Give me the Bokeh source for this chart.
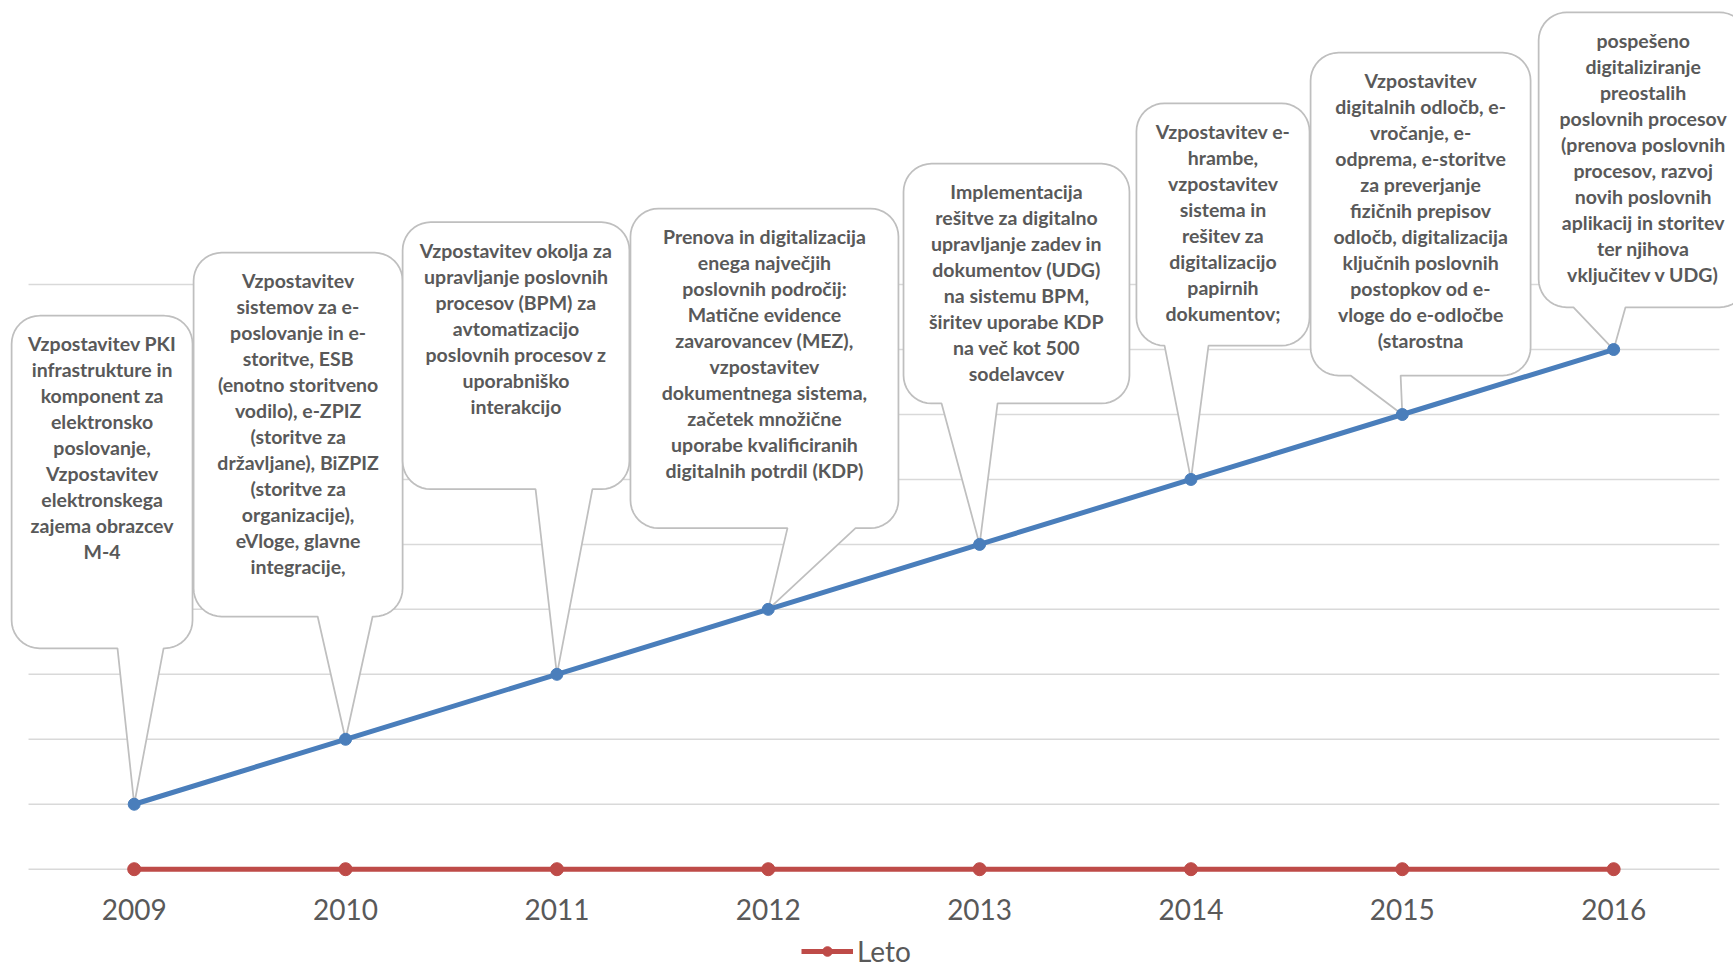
import math
from bokeh.plotting import figure
from bokeh.models import Range1d, FixedTicker, Legend, LegendItem
from bokeh.embed import file_html
from bokeh.resources import INLINE
from bokeh.core.properties import value

# ---------------- data ----------------
years = ["2009", "2010", "2011", "2012", "2013", "2014", "2015", "2016"]
napredek = [1, 2, 3, 4, 5, 6, 7, 8]          # blue milestone line
leto = [0, 0, 0, 0, 0, 0, 0, 0]              # red "Leto" series
grid_levels = [0, 1, 2, 3, 4, 5, 6, 7, 8, 9]

labels = [
    ["Vzpostavitev PKI", "infrastrukture in", "komponent za", "elektronsko",
     "poslovanje,", "Vzpostavitev", "elektronskega", "zajema obrazcev", "M-4"],
    ["Vzpostavitev", "sistemov za e-", "poslovanje in e-", "storitve, ESB",
     "(enotno storitveno", "vodilo), e-ZPIZ", "(storitve za", "državljane), BiZPIZ",
     "(storitve za", "organizacije),", "eVloge, glavne", "integracije,"],
    ["Vzpostavitev okolja za", "upravljanje poslovnih", "procesov (BPM) za",
     "avtomatizacijo", "poslovnih procesov z", "uporabniško", "interakcijo"],
    ["Prenova in digitalizacija", "enega največjih", "poslovnih področij:",
     "Matične evidence", "zavarovancev (MEZ),", "vzpostavitev",
     "dokumentnega sistema,", "začetek množične", "uporabe kvalificiranih",
     "digitalnih potrdil (KDP)"],
    ["Implementacija", "rešitve za digitalno", "upravljanje zadev in",
     "dokumentov (UDG)", "na sistemu BPM,", "širitev uporabe KDP",
     "na več kot 500", "sodelavcev"],
    ["Vzpostavitev e-", "hrambe,", "vzpostavitev", "sistema in", "rešitev za",
     "digitalizacijo", "papirnih", "dokumentov;"],
    ["Vzpostavitev", "digitalnih odločb, e-", "vročanje, e-", "odprema, e-storitve",
     "za preverjanje", "fizičnih prepisov", "odločb, digitalizacija",
     "ključnih poslovnih", "postopkov od e-", "vloge do e-odločbe", "(starostna"],
    ["pospešeno", "digitaliziranje", "preostalih", "poslovnih procesov",
     "(prenova poslovnih", "procesov, razvoj", "novih poslovnih",
     "aplikacij in storitev", "ter njihova", "vključitev v UDG)"],
]

# ---------------- callout layout (data units) ----------------
box_left = [-0.58, 0.281, 1.27, 2.348, 3.64, 4.742, 5.566, 6.645]
box_right = [0.276, 1.27, 2.343, 3.616, 4.709, 5.561, 6.607, 7.634]
box_top = [8.52, 9.49, 9.96, 10.17, 10.86, 11.79, 12.57, 13.19]
box_bottom = [3.40, 3.89, 5.85, 5.25, 7.17, 8.06, 7.60, 8.65]
ptr_left = [-0.079, 0.868, 1.899, 3.091, 3.82, 4.875, 5.755, 6.81]
ptr_right = [0.139, 1.128, 2.168, 3.413, 4.085, 5.083, 5.992, 7.056]

# ---------------- figure ----------------
FW, FH = 1733, 969
x0, x1 = -0.6326, 7.567
y0, y1 = -1.544, 13.373
PX_X = FW / (x1 - x0)
PX_Y = FH / (y1 - y0)

p = figure(frame_width=FW, frame_height=FH, x_range=Range1d(x0, x1),
           y_range=Range1d(y0, y1), output_backend="svg", toolbar_location=None,
           y_axis_location=None, min_border=0, outline_line_color=None)
p.xgrid.visible = False
p.ygrid.visible = False

ax = p.xaxis[0]
ax.fixed_location = 0
ax.ticker = FixedTicker(ticks=list(range(len(years))))
ax.major_label_overrides = {i: y for i, y in enumerate(years)}
ax.axis_line_color = None
ax.major_tick_line_color = None
ax.minor_tick_line_color = None
ax.major_label_standoff = 24
ax.major_label_text_font = "Lato"
ax.major_label_text_font_size = "28px"
ax.major_label_text_color = "#595959"

# gridlines
p.segment(x0=[-0.5] * len(grid_levels), y0=grid_levels,
          x1=[len(years) - 0.5] * len(grid_levels), y1=grid_levels,
          line_color="#D9D9D9", line_width=1.5)

idx = list(range(len(years)))

# red series
red_line = p.line(idx, leto, line_color="#BE4B48", line_width=5)
red_pts = p.scatter(idx, leto, marker="circle", size=13,
                    fill_color="#BE4B48", line_color="#BE4B48")

# callouts
rx = 28 / PX_X
ry = 28 / PX_Y


def arc(cx, cy, a0, a1, n=10):
    xs, ys = [], []
    for k in range(n + 1):
        a = math.radians(a0 + (a1 - a0) * k / n)
        xs.append(cx + rx * math.cos(a))
        ys.append(cy + ry * math.sin(a))
    return xs, ys


cxs, cys = [], []
for i in range(len(years)):
    L, R, T, B = box_left[i], box_right[i], box_top[i], box_bottom[i]
    xs, ys = [], []
    ax_, ay_ = arc(R - rx, T - ry, 90, 0); xs += ax_; ys += ay_
    ax_, ay_ = arc(R - rx, B + ry, 0, -90); xs += ax_; ys += ay_
    xs += [ptr_right[i], idx[i], ptr_left[i]]
    ys += [B, napredek[i], B]
    ax_, ay_ = arc(L + rx, B + ry, -90, -180); xs += ax_; ys += ay_
    ax_, ay_ = arc(L + rx, T - ry, 180, 90); xs += ax_; ys += ay_
    cxs.append(xs)
    cys.append(ys)

p.patches(cxs, cys, fill_color="white", line_color="#BFBFBF", line_width=1.75)

# blue series
p.line(idx, napredek, line_color="#4A7EBB", line_width=5)
p.scatter(idx, napredek, marker="circle", size=12,
          fill_color="#4A7EBB", line_color="#4A7EBB")

# callout texts
tx, ty, tt = [], [], []
for i, lines in enumerate(labels):
    cx = (box_left[i] + box_right[i]) / 2
    for k, s in enumerate(lines):
        tx.append(cx)
        ty.append(box_top[i] - (28 + 26 * k) / PX_Y)
        tt.append(s)
p.text(tx, ty, text=tt, text_font=value("Lato"), text_font_style="bold",
       text_font_size="19.5px", text_color="#595959", text_align="center",
       text_baseline="middle")

legend = Legend(items=[LegendItem(label="Leto", renderers=[red_line, red_pts])],
                orientation="horizontal", location=(801, 1),
                border_line_color=None, background_fill_alpha=0,
                label_text_font="Lato", label_text_font_size="28px",
                label_text_color="#595959", glyph_width=52, glyph_height=24,
                padding=1, margin=0, label_standoff=4)
p.add_layout(legend, "center")

open("out.html", "w").write(file_html(p, INLINE))
